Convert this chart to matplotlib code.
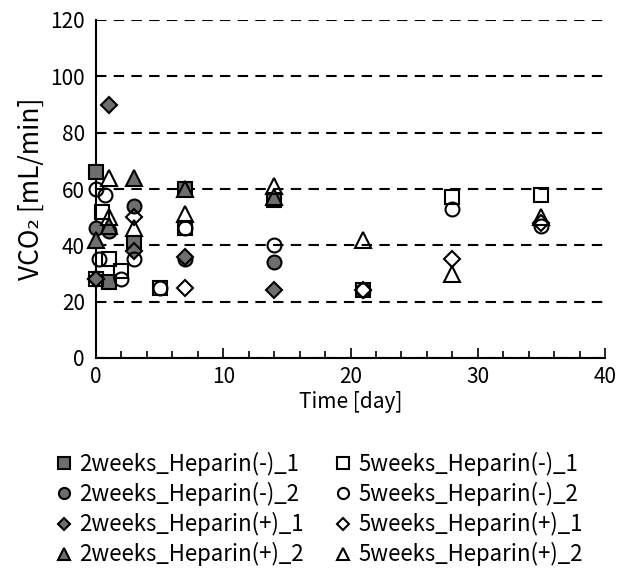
import matplotlib
matplotlib.use("Agg")
import matplotlib.pyplot as plt
from matplotlib.ticker import MultipleLocator

plt.rcParams['font.family'] = ['Noto Sans CJK JP', 'DejaVu Sans']

# ---- data ----
w2_hm1_x = [0, 1, 3, 7, 14]
w2_hm1_y = [66, 27, 41, 60, 56]
w2_hm2_x = [0, 1, 3, 7, 14]
w2_hm2_y = [46, 45, 54, 35, 34]
w2_hp1_x = [0, 1, 3, 7, 14]
w2_hp1_y = [28, 90, 38, 36, 24]
w2_hp2_x = [0, 1, 3, 7, 14]
w2_hp2_y = [42, 47, 64, 60, 57]

w5_hm1_x = [0, 0.5, 1, 2, 5, 7, 21, 28, 35]
w5_hm1_y = [28, 52, 35, 31, 25, 46, 24, 57, 58]
w5_hm2_x = [0, 0.2, 0.7, 2, 3, 5, 7, 14, 21, 28, 35]
w5_hm2_y = [60, 35, 58, 28, 35, 25, 46, 40, 24, 53, 47]
w5_hp1_x = [0, 3, 7, 21, 28, 35]
w5_hp1_y = [28, 50, 25, 24, 35, 48]
w5_hp2_x = [1, 1, 3, 7, 14, 21, 28, 35]
w5_hp2_y = [64, 50, 46, 51, 61, 42, 30, 50]

labels = ["2weeks_Heparin(-)_1", "2weeks_Heparin(-)_2",
          "2weeks_Heparin(+)_1", "2weeks_Heparin(+)_2",
          "5weeks_Heparin(-)_1", "5weeks_Heparin(-)_2",
          "5weeks_Heparin(+)_1", "5weeks_Heparin(+)_2"]

xticks = [0, 10, 20, 30, 40]
yticks = [0, 20, 40, 60, 80, 100, 120]

fig = plt.figure(figsize=(6.18, 5.75), dpi=100)
ax = fig.add_axes([96/618, 1-358/575, (605-96)/618, (358-20)/575])

series = [
    (w2_hm1_x, w2_hm1_y, 's', True, 10),
    (w2_hm2_x, w2_hm2_y, 'o', True, 10),
    (w2_hp1_x, w2_hp1_y, 'D', True, 8),
    (w2_hp2_x, w2_hp2_y, '^', True, 11),
    (w5_hm1_x, w5_hm1_y, 's', False, 10),
    (w5_hm2_x, w5_hm2_y, 'o', False, 10),
    (w5_hp1_x, w5_hp1_y, 'D', False, 8),
    (w5_hp2_x, w5_hp2_y, '^', False, 11),
]

handles = []
for (x, y, m, filled, ms), lab in zip(series, labels):
    fc = '#6e6e6e' if filled else 'none'
    h, = ax.plot(x, y, linestyle='none', marker=m, markersize=ms,
                 markerfacecolor=fc, markeredgecolor='black',
                 markeredgewidth=1.5, label=lab, zorder=3, clip_on=False)
    handles.append(h)

ax.set_xlim(0, 40)
ax.set_ylim(0, 120)
ax.set_xticks(xticks)
ax.set_yticks(yticks)
ax.xaxis.set_minor_locator(MultipleLocator(2))
ax.tick_params(axis='x', which='major', direction='in', length=7, width=1.2,
               labelsize=15, pad=6)
ax.tick_params(axis='x', which='minor', direction='in', length=5, width=1.2)
ax.tick_params(axis='y', which='major', length=0, labelsize=15, pad=8)

for s in ['top', 'right']:
    ax.spines[s].set_visible(False)
for s in ['left', 'bottom']:
    ax.spines[s].set_linewidth(1.5)

ax.yaxis.grid(True, color='black', linestyle=(0, (5, 3.5)), linewidth=1.5)
ax.set_axisbelow(True)

ax.set_xlabel("Time [day]", fontsize=15, labelpad=2)
ax.set_ylabel("VCO₂ [mL/min]", fontsize=19, labelpad=4)

leg = fig.legend(handles=handles, labels=labels, ncol=2,
                 loc='upper left', bbox_to_anchor=(55/618, 1-452/575),
                 frameon=False, fontsize=16, handlelength=0.8,
                 handletextpad=0.3, columnspacing=1.35, labelspacing=0.27,
                 markerscale=0.8, borderaxespad=0, borderpad=0)

fig.savefig("out.png", dpi=100)
